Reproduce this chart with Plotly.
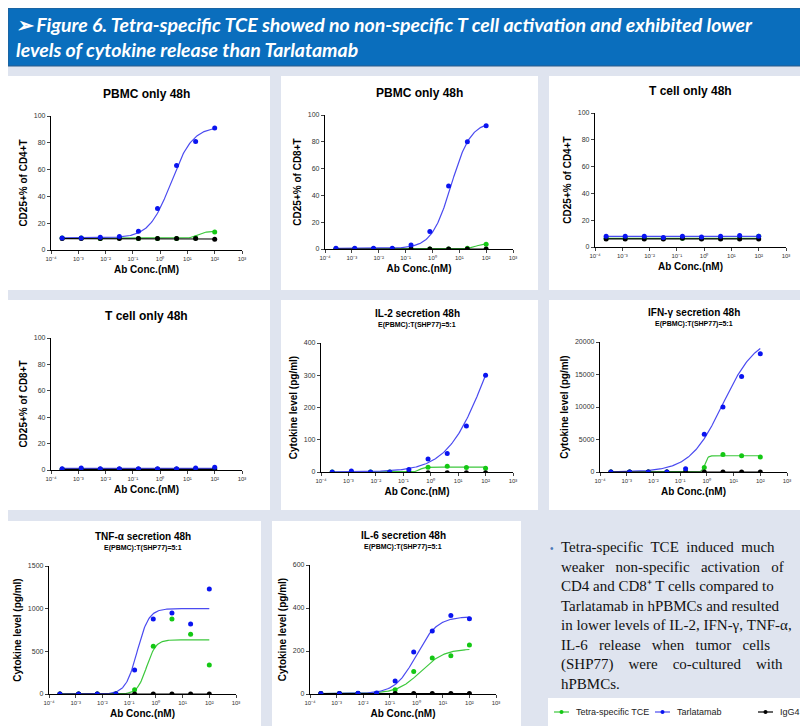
import plotly.graph_objects as go

W, H = 808, 726

conc = [0.000256, 0.00128, 0.0064, 0.032, 0.16, 0.8, 4, 20, 100]
xtick_vals = [1e-4, 1e-3, 1e-2, 1e-1, 1, 10, 100, 1000]
xtick_text = ["10⁻⁴", "10⁻³", "10⁻²", "10⁻¹", "10⁰", "10¹", "10²", "10³"]

series_names = ["Tetra-specific TCE", "Tarlatamab", "IgG4"]
dot_colors = ["#14c814", "#0a14f0", "#000000"]
line_colors = ["#3cc83c", "#4a4af0", "#000000"]

# values per panel: tetra, tarla, igg4
cd4_pbmc = [[9, 9, 8.5, 9, 8.5, 8.5, 8.5, 9, 13.5],
            [9, 9, 9.5, 10, 14, 31, 63, 81, 91],
            [8.5, 8.5, 8.5, 8.5, 8.5, 8.5, 8.5, 8.5, 8]]
cd8_pbmc = [[0, 0, 0, 0, 0, 0, 0, 0.5, 3.5],
            [0.5, 0.5, 0.5, 0.5, 3, 13, 47, 80, 92],
            [0, 0, 0, 0, 0, 0, 0, 0, 0]]
cd4_tcell = [[6.5, 6.5, 6.5, 6.5, 6.5, 6.5, 6.5, 6.5, 8],
             [8, 8, 8, 7, 8, 7.5, 8, 8.5, 8],
             [6, 6, 6, 6, 6.5, 6, 6, 6, 6]]
cd8_tcell = [[0.5, 0.5, 0.5, 0.5, 0.5, 0.5, 0.5, 0.5, 1],
             [1, 1.5, 1, 1, 1, 1, 1, 1.5, 2],
             [0.5, 0.5, 0.5, 0.5, 0.5, 0.5, 0.5, 0.5, 0.5]]
il2 = [[0, 0, 0, 0, 0, 15, 18, 14, 12],
       [0, 3, 0, 0, 8, 40, 57, 143, 300],
       [-2, -2, -2, -2, -2, -2, -2, -2, -2]]
ifng = [[0, 0, 0, 0, 0, 700, 2700, 2500, 2300],
        [0, 0, 0, 0, 500, 5800, 10000, 14700, 18200],
        [0, 0, 0, 0, 0, 0, 0, 0, 0]]
tnfa = [[0, 0, 0, 0, 50, 560, 880, 700, 340],
        [0, 0, 0, 0, 280, 880, 950, 820, 1230],
        [0, 0, 0, 0, 0, 0, 0, 0, 0]]
il6 = [[2, 2, 2, 2, 20, 105, 168, 178, 228],
       [2, 2, 3, 5, 60, 195, 293, 365, 350],
       [2, 2, 2, 2, 2, 2, 2, 2, 2]]

# 4PL fit parameters: (bottom, top, ec50, hill)
fits = {
    "cd4_pbmc": [(8.7, 14, 25, 3), (9, 92, 2.5, 1.1), (8.5, 8.2, 10, 1)],
    "cd8_pbmc": [(0, 4, 40, 3), (0.5, 95, 5, 1.2), (0, 0, 1, 1)],
    "cd4_tcell": [(6.5, 6.5, 1, 1), (8, 8, 1, 1), (6, 6, 1, 1)],
    "cd8_tcell": [(0.5, 0.5, 1, 1), (1.2, 1.2, 1, 1), (0.5, 0.5, 1, 1)],
    "il2": [(0, 15, 0.4, 5), (0, 600, 100, 0.62), (-2, -2, 1, 1)],
    "ifng": [(0, 2500, 0.85, 8), (0, 21000, 4, 0.7), (0, 0, 1, 1)],
    "tnfa": [(0, 635, 0.45, 2.5), (0, 1000, 0.2, 2), (0, 0, 1, 1)],
    "il6": [(2, 210, 1.5, 1.0), (2, 360, 1.0, 1.1), (2, 2, 1, 1)],
}

# panel: key, data, title, subtitle, ytitle, ymax, dtick, plot box px (x0, x1, ytop, ybottom)
panels = [
    ("cd4_pbmc", cd4_pbmc, "PBMC only 48h", "", "CD25+% of CD4+T", 100, 20, (43, 234, 108, 242)),
    ("cd8_pbmc", cd8_pbmc, "PBMC only 48h", "", "CD25+% of CD8+T", 100, 20, (317, 505, 107, 241)),
    ("cd4_tcell", cd4_tcell, "T cell only 48h", "", "CD25+% of CD4+T", 100, 20, (587, 778, 105, 239)),
    ("cd8_tcell", cd8_tcell, "T cell only 48h", "", "CD25+% of CD8+T", 100, 20, (43, 234, 330, 462)),
    ("il2", il2, "IL-2 secretion 48h", "E(PBMC):T(SHP77)=5:1", "Cytokine level (pg/ml)", 400, 100, (313, 505, 335, 464)),
    ("ifng", ifng, "IFN-γ secretion 48h", "E(PBMC):T(SHP77)=5:1", "Cytokine level (pg/ml)", 20000, 5000, (592, 779, 334, 464)),
    ("tnfa", tnfa, "TNF-α secretion 48h", "E(PBMC):T(SHP77)=5:1", "Cytokine level (pg/ml)", 1500, 500, (41, 228, 558, 686)),
    ("il6", il6, "IL-6 secretion 48h", "E(PBMC):T(SHP77)=5:1", "Cytokine level (pg/ml)", 600, 200, (302, 488, 557, 686)),
]

cards = [(0, 262, 68, 282), (273, 530, 68, 282), (541, 806, 68, 282),
         (0, 262, 292, 502), (273, 530, 292, 502), (541, 806, 292, 502),
         (0, 253, 513, 722), (264, 513, 513, 722)]

legend_x = [566, 667, 770]


def px(x):
    return x / W


def py(y):
    return 1 - y / H


def fourpl(x, b, t, ec, h):
    return b + (t - b) / (1 + (ec / x) ** h)


fig = go.Figure()
shapes = []
annotations = []

shapes.append(dict(type="rect", xref="paper", yref="paper", x0=0, x1=px(806), y0=py(58), y1=py(0),
                   fillcolor="#0a6ebd", line=dict(color="#2a5a8a", width=1), layer="below"))
for c in cards:
    shapes.append(dict(type="rect", xref="paper", yref="paper", x0=px(c[0]), x1=px(c[1]),
                       y0=py(c[3]), y1=py(c[2]), fillcolor="white", line_width=0, layer="below"))
shapes.append(dict(type="rect", xref="paper", yref="paper", x0=px(540), x1=px(805),
                   y0=py(718), y1=py(690), fillcolor="white", line_width=0, layer="below"))

# dense x grid for the fitted curves
curve_x = [conc[0] * (conc[-1] / conc[0]) ** (i / 200) for i in range(201)]

for i, (key, data, title, sub, ytitle, ymax, dtick, box) in enumerate(panels):
    n = "" if i == 0 else str(i + 1)
    xa, ya = "x" + n, "y" + n
    x0, x1, yt, yb = box
    for s in range(3):
        b, t, ec, h = fits[key][s]
        fig.add_trace(go.Scatter(x=curve_x, y=[fourpl(x, b, t, ec, h) for x in curve_x], mode="lines",
                                 line=dict(color=line_colors[s], width=1.2), xaxis=xa, yaxis=ya,
                                 showlegend=False, hoverinfo="skip"))
    for s in [0, 2, 1]:
        fig.add_trace(go.Scatter(x=conc, y=data[s], mode="markers",
                                 marker=dict(color=dot_colors[s], size=5), xaxis=xa, yaxis=ya,
                                 showlegend=False, name=series_names[s]))
    fig.layout["xaxis" + n] = dict(type="log", range=[-4, 3], domain=[px(x0), px(x1)], anchor=ya,
                                   tickvals=xtick_vals, ticktext=xtick_text, ticks="outside", ticklen=3,
                                   showline=True, linecolor="black", linewidth=1.3, showgrid=False,
                                   zeroline=False, tickfont=dict(size=6, color="#333"),
                                   title=dict(text="<b>Ab Conc.(nM)</b>", font=dict(size=10, color="black"), standoff=4))
    fig.layout["yaxis" + n] = dict(range=[0, ymax], domain=[py(yb), py(yt)], anchor=xa, dtick=dtick,
                                   tickformat="d", ticks="outside", ticklen=3, showline=True, linecolor="black",
                                   linewidth=1.3, showgrid=False, zeroline=False,
                                   tickfont=dict(size=7, color="#333"),
                                   title=dict(text="<b>" + ytitle + "</b>", font=dict(size=10, color="black"), standoff=4))
    cx = (x0 + x1) / 2
    if sub:
        annotations.append(dict(xref="paper", yref="paper", x=px(cx), y=py(yt - 30), text="<b>" + title + "</b>",
                                showarrow=False, font=dict(size=10, color="black"), xanchor="center", yanchor="middle"))
        annotations.append(dict(xref="paper", yref="paper", x=px(cx), y=py(yt - 18), text="<b>" + sub + "</b>",
                                showarrow=False, font=dict(size=7, color="black"), xanchor="center", yanchor="middle"))
    else:
        annotations.append(dict(xref="paper", yref="paper", x=px(cx), y=py(yt - 22), text="<b>" + title + "</b>",
                                showarrow=False, font=dict(size=12, color="black"), xanchor="center", yanchor="middle"))

# legend box: glyph + label for each series
for s in range(3):
    lx = legend_x[s]
    shapes.append(dict(type="line", xref="paper", yref="paper", x0=px(lx - 20), x1=px(lx - 5),
                       y0=py(704), y1=py(704), line=dict(color=line_colors[s], width=1.2)))
    shapes.append(dict(type="circle", xref="paper", yref="paper", x0=px(lx - 14.5), x1=px(lx - 10.5),
                       y0=py(706), y1=py(702), fillcolor=dot_colors[s], line_width=0))
    annotations.append(dict(xref="paper", yref="paper", x=px(lx), y=py(704), xanchor="left", yanchor="middle",
                            showarrow=False, text=series_names[s], font=dict(size=9, color="#222")))

annotations.append(dict(xref="paper", yref="paper", x=px(6), y=py(29), xanchor="left", yanchor="middle",
                        align="left", showarrow=False,
                        text="<b><i>➢ Figure 6. Tetra-specific TCE showed no non-specific T cell activation and exhibited lower<br>levels of cytokine release than Tarlatamab</i></b>",
                        font=dict(family="Lato", size=19.5, color="white")))
body = ("Tetra-specific  TCE  induced  much<br>weaker   non-specific   activation   of<br>"
        "CD4 and CD8⁺ T cells compared to<br>Tarlatamab in hPBMCs and resulted<br>"
        "in lower levels of IL-2, IFN-γ, TNF-α,<br>IL-6   release   when   tumor   cells<br>"
        "(SHP77)    were    co-cultured    with<br>hPBMCs.")
annotations.append(dict(xref="paper", yref="paper", x=px(551), y=py(529), xanchor="left", yanchor="top",
                        align="left", showarrow=False, text=body,
                        font=dict(family="Liberation Serif", size=15, color="#111")))
annotations.append(dict(xref="paper", yref="paper", x=px(540), y=py(540), xanchor="left", yanchor="middle",
                        showarrow=False, text="•", font=dict(size=10, color="#4a7ab8")))

fig.update_layout(width=W, height=H, margin=dict(l=0, r=0, t=0, b=0, autoexpand=False),
                  paper_bgcolor="#dfe4ef", plot_bgcolor="rgba(0,0,0,0)",
                  font=dict(family="Liberation Sans", color="black"),
                  shapes=shapes, annotations=annotations, showlegend=False)
fig.write_html("out.html")
